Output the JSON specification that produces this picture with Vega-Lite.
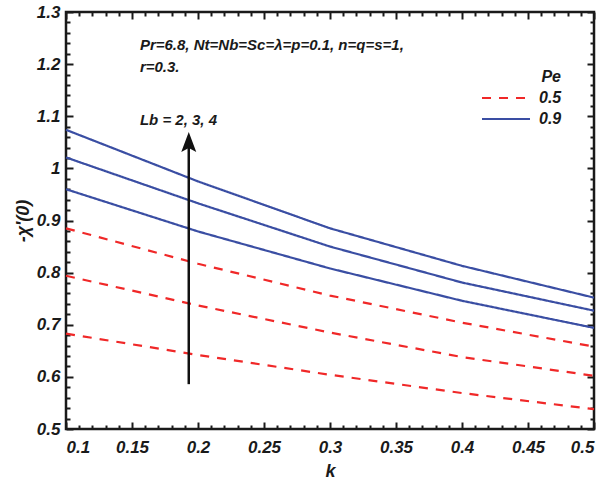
{
  "$schema": "https://vega.github.io/schema/vega-lite/v6.json",
  "width": 528,
  "height": 417,
  "autosize": "none",
  "padding": {"left": 66, "top": 12, "right": 19, "bottom": 50},
  "background": "white",
  "datasets": {
    "curves": [
      {"Pe": "0.5", "Lb": 2, "k": 0.1, "chi": 0.683},
      {"Pe": "0.5", "Lb": 2, "k": 0.2, "chi": 0.642},
      {"Pe": "0.5", "Lb": 2, "k": 0.3, "chi": 0.604},
      {"Pe": "0.5", "Lb": 2, "k": 0.4, "chi": 0.569},
      {"Pe": "0.5", "Lb": 2, "k": 0.5, "chi": 0.538},
      {"Pe": "0.5", "Lb": 3, "k": 0.1, "chi": 0.794},
      {"Pe": "0.5", "Lb": 3, "k": 0.2, "chi": 0.737},
      {"Pe": "0.5", "Lb": 3, "k": 0.3, "chi": 0.685},
      {"Pe": "0.5", "Lb": 3, "k": 0.4, "chi": 0.638},
      {"Pe": "0.5", "Lb": 3, "k": 0.5, "chi": 0.602},
      {"Pe": "0.5", "Lb": 4, "k": 0.1, "chi": 0.885},
      {"Pe": "0.5", "Lb": 4, "k": 0.2, "chi": 0.817},
      {"Pe": "0.5", "Lb": 4, "k": 0.3, "chi": 0.756},
      {"Pe": "0.5", "Lb": 4, "k": 0.4, "chi": 0.704},
      {"Pe": "0.5", "Lb": 4, "k": 0.5, "chi": 0.658},
      {"Pe": "0.9", "Lb": 2, "k": 0.1, "chi": 0.960},
      {"Pe": "0.9", "Lb": 2, "k": 0.2, "chi": 0.879},
      {"Pe": "0.9", "Lb": 2, "k": 0.3, "chi": 0.808},
      {"Pe": "0.9", "Lb": 2, "k": 0.4, "chi": 0.746},
      {"Pe": "0.9", "Lb": 2, "k": 0.5, "chi": 0.694},
      {"Pe": "0.9", "Lb": 3, "k": 0.1, "chi": 1.021},
      {"Pe": "0.9", "Lb": 3, "k": 0.2, "chi": 0.933},
      {"Pe": "0.9", "Lb": 3, "k": 0.3, "chi": 0.850},
      {"Pe": "0.9", "Lb": 3, "k": 0.4, "chi": 0.781},
      {"Pe": "0.9", "Lb": 3, "k": 0.5, "chi": 0.727},
      {"Pe": "0.9", "Lb": 4, "k": 0.1, "chi": 1.074},
      {"Pe": "0.9", "Lb": 4, "k": 0.2, "chi": 0.975},
      {"Pe": "0.9", "Lb": 4, "k": 0.3, "chi": 0.885},
      {"Pe": "0.9", "Lb": 4, "k": 0.4, "chi": 0.813},
      {"Pe": "0.9", "Lb": 4, "k": 0.5, "chi": 0.752}
    ],
    "arrow": [
      {"k": 0.193, "y1": 0.586, "y2": 1.05, "head": 1.0505}
    ],
    "notes": [
      {"k": 0.156, "y": 1.237, "label": "Pr=6.8, Nt=Nb=Sc=λ=p=0.1, n=q=s=1,"},
      {"k": 0.156, "y": 1.194, "label": "r=0.3."},
      {"k": 0.156, "y": 1.093, "label": "Lb = 2, 3, 4"}
    ]
  },
  "config": {
    "view": {"stroke": "#1a1a1a", "strokeWidth": 2.5},
    "axis": {
      "grid": false,
      "domain": false,
      "labelFont": "Liberation Sans",
      "labelFontWeight": "bold",
      "labelFontStyle": "italic",
      "labelFontSize": 17,
      "labelColor": "#1a1a1a",
      "tickColor": "#1a1a1a",
      "tickWidth": 2,
      "titleFont": "Liberation Sans",
      "titleFontWeight": "bold",
      "titleFontStyle": "italic",
      "titleFontSize": 18,
      "titleColor": "#1a1a1a"
    },
    "legend": {
      "orient": "none",
      "legendX": 432,
      "legendY": 57,
      "padding": 0,
      "symbolType": "M-4,0L4,0",
      "symbolSize": 144,
      "symbolStrokeWidth": 2.2,
      "labelOffset": 25,
      "labelFont": "Liberation Sans",
      "labelFontWeight": "bold",
      "labelFontStyle": "italic",
      "labelFontSize": 16,
      "labelColor": "#1a1a1a",
      "titleFont": "Liberation Sans",
      "titleFontWeight": "bold",
      "titleFontStyle": "italic",
      "titleFontSize": 16,
      "titleColor": "#1a1a1a",
      "titleAnchor": "end",
      "titlePadding": 5,
      "rowPadding": 5
    }
  },
  "resolve": {"axis": {"x": "independent", "y": "independent"}},
  "layer": [
    {
      "data": {"name": "curves"},
      "mark": {"type": "line", "strokeWidth": 2.2},
      "encoding": {
        "x": {
          "field": "k", "type": "quantitative",
          "scale": {"domain": [0.1, 0.5], "nice": false, "zero": false},
          "axis": {"orient": "bottom", "values": [0.1, 0.15, 0.2, 0.25, 0.3, 0.35, 0.4, 0.45, 0.5], "format": "~g", "tickSize": -7, "labelPadding": 17, "title": "k", "titlePadding": 7}
        },
        "y": {
          "field": "chi", "type": "quantitative",
          "scale": {"domain": [0.5, 1.3], "nice": false, "zero": false},
          "axis": {"orient": "left", "values": [0.5, 0.6, 0.7, 0.8, 0.9, 1, 1.1, 1.2, 1.3], "format": "~g", "tickSize": -7, "labelPadding": 13, "title": "-χ'(0)", "titlePadding": 4}
        },
        "color": {
          "field": "Pe", "type": "nominal",
          "scale": {"domain": ["0.5", "0.9"], "range": ["#f02828", "#3a4ea3"]},
          "legend": {"title": "Pe"}
        },
        "strokeDash": {
          "field": "Pe", "type": "nominal",
          "scale": {"domain": ["0.5", "0.9"], "range": [[9, 8], [1, 0]]},
          "legend": {"title": "Pe"}
        },
        "detail": {"field": "Lb", "type": "nominal"}
      }
    },
    {
      "data": {"name": "arrow"},
      "mark": {"type": "rule", "strokeWidth": 2.5, "color": "#111111"},
      "encoding": {
        "x": {"field": "k", "type": "quantitative", "axis": {"orient": "top", "values": [0.1, 0.15, 0.2, 0.25, 0.3, 0.35, 0.4, 0.45, 0.5], "labels": false, "tickSize": -7, "title": null}},
        "y": {"field": "y1", "type": "quantitative", "axis": {"orient": "right", "values": [0.5, 0.6, 0.7, 0.8, 0.9, 1, 1.1, 1.2, 1.3], "labels": false, "tickSize": -7, "title": null}},
        "y2": {"field": "y2"}
      }
    },
    {
      "data": {"name": "arrow"},
      "mark": {"type": "point", "shape": "M0,-1L0.75,1L0,0.6L-0.75,1Z", "filled": true, "size": 400, "color": "#111111", "opacity": 1},
      "encoding": {
        "x": {"field": "k", "type": "quantitative", "axis": {"orient": "bottom", "values": [0.11,0.12,0.13,0.14,0.16,0.17,0.18,0.19,0.21,0.22,0.23,0.24,0.26,0.27,0.28,0.29,0.31,0.32,0.33,0.34,0.36,0.37,0.38,0.39,0.41,0.42,0.43,0.44,0.46,0.47,0.48,0.49], "labels": false, "tickSize": -4, "title": null}},
        "y": {"field": "head", "type": "quantitative", "axis": {"orient": "left", "values": [0.52,0.54,0.56,0.58,0.62,0.64,0.66,0.68,0.72,0.74,0.76,0.78,0.82,0.84,0.86,0.88,0.92,0.94,0.96,0.98,1.02,1.04,1.06,1.08,1.12,1.14,1.16,1.18,1.22,1.24,1.26,1.28], "labels": false, "tickSize": -4, "title": null}}
      }
    },
    {
      "data": {"name": "notes"},
      "mark": {"type": "text", "align": "left", "baseline": "middle", "font": "Liberation Sans", "fontWeight": "bold", "fontStyle": "italic", "fontSize": 15, "color": "#1a1a1a"},
      "encoding": {
        "x": {"field": "k", "type": "quantitative", "axis": {"orient": "top", "values": [0.11,0.12,0.13,0.14,0.16,0.17,0.18,0.19,0.21,0.22,0.23,0.24,0.26,0.27,0.28,0.29,0.31,0.32,0.33,0.34,0.36,0.37,0.38,0.39,0.41,0.42,0.43,0.44,0.46,0.47,0.48,0.49], "labels": false, "tickSize": -4, "title": null}},
        "y": {"field": "y", "type": "quantitative", "axis": {"orient": "right", "values": [0.52,0.54,0.56,0.58,0.62,0.64,0.66,0.68,0.72,0.74,0.76,0.78,0.82,0.84,0.86,0.88,0.92,0.94,0.96,0.98,1.02,1.04,1.06,1.08,1.12,1.14,1.16,1.18,1.22,1.24,1.26,1.28], "labels": false, "tickSize": -4, "title": null}},
        "text": {"field": "label", "type": "nominal"}
      }
    }
  ]
}
